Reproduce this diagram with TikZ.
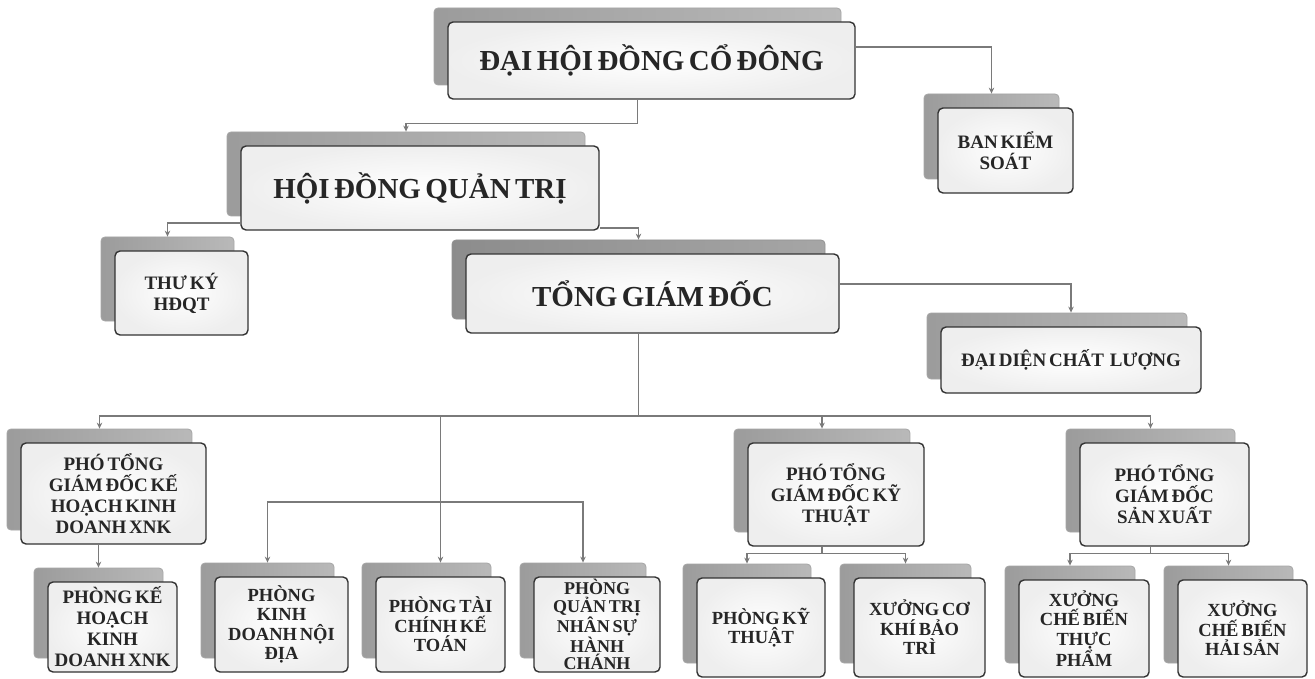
\documentclass[tikz,border=0pt]{standalone}
\usepackage{fontspec}
\setmainfont{Liberation Serif}[WordSpace=0.6]
\usetikzlibrary{arrows.meta}
\tikzset{
  backbox/.style={rounded corners=4pt, draw=gray!70, line width=0.8pt, left color=gray!78, right color=gray!55, inner sep=0pt},
  darkback/.style={left color=gray!90, right color=gray!70, draw=gray!85},
  frontbox/.style={rounded corners=5pt, draw=black!80, line width=1.4pt, inner color=white, outer color=gray!13, inner sep=0pt, align=center, text=black!85, font=\bfseries\fontsize{18}{19.5}\selectfont},
  bigtext/.style={font=\bfseries\fontsize{29}{31}\selectfont},
  midtext/.style={font=\bfseries\fontsize{19}{21}\selectfont},
  smalltext/.style={font=\bfseries\fontsize{18.5}{19.5}\selectfont},
  tighttext/.style={font=\bfseries\fontsize{18}{17.5}\selectfont},
  conn/.style={draw=black!52, line width=1.5pt, -{Stealth[length=6pt,width=5.5pt]}},
  plainline/.style={draw=black!52, line width=1.5pt},
}
\NewDocumentCommand\orgbox{O{} O{} m m m m m m}{%
  \node[backbox, #2, minimum width={(#6)-(#4)}, minimum height={(#7)-(#5)}] (#3-b) at ({(#4+#6)/2-14},{(#5+#7)/2-14}) {};
  \node[frontbox, minimum width={(#6)-(#4)}, minimum height={(#7)-(#5)}, #1] (#3) at ({(#4+#6)/2},{(#5+#7)/2}) {#8};
}
\begin{document}
\begin{tikzpicture}[x=1pt,y=-1pt]
\useasboundingbox[fill=white] (0,0) rectangle (1315,679);
\orgbox[bigtext]{dh}{448}{22}{855}{99}{ĐẠI HỘI ĐỒNG CỔ ĐÔNG}
\orgbox[midtext]{bks}{938}{108}{1073}{193}{BAN KIỂM\\SOÁT}
\orgbox[bigtext]{hdq}{241}{146}{599}{230}{HỘI ĐỒNG QUẢN TRỊ}
\orgbox[midtext]{tk}{115}{251}{248}{335}{THƯ KÝ\\HĐQT}
\orgbox[bigtext][darkback]{tgd}{466}{254}{839}{333}{TỔNG GIÁM ĐỐC}
\orgbox[midtext]{ddcl}{941}{327}{1201}{393}{ĐẠI DIỆN CHẤT\hspace{0.3em}LƯỢNG}
\orgbox[midtext]{pkh}{21}{443}{206}{544}{PHÓ TỔNG\\GIÁM ĐỐC KẾ\\HOẠCH KINH\\DOANH XNK}
\orgbox[midtext]{pkt}{748}{443}{924}{546}{PHÓ TỔNG\\GIÁM ĐỐC KỸ\\THUẬT}
\orgbox[midtext]{psx}{1080}{443}{1249}{546}{PHÓ TỔNG\\GIÁM ĐỐC\\SẢN XUẤT}
\orgbox[midtext]{pkhk}{48}{582}{177}{672}{PHÒNG KẾ\\HOẠCH\\KINH\\DOANH XNK}
\orgbox[smalltext]{pkd}{215}{577}{348}{672}{PHÒNG\\KINH\\DOANH NỘI\\ĐỊA}
\orgbox[smalltext]{ptc}{376}{577}{505}{672}{PHÒNG TÀI\\CHÍNH KẾ\\TOÁN}
\orgbox[tighttext]{pqt}{534}{577}{660}{672}{PHÒNG\\QUẢN TRỊ\\NHÂN SỰ\\HÀNH\\CHÁNH}
\orgbox[smalltext]{pkyt}{697}{578}{825}{677}{PHÒNG KỸ\\THUẬT}
\orgbox[smalltext]{xck}{854}{578}{985}{677}{XƯỞNG CƠ\\KHÍ BẢO\\TRÌ}
\orgbox[smalltext]{xtp}{1019}{580}{1149}{677}{XƯỞNG\\CHẾ BIẾN\\THỰC\\PHẨM}
\orgbox[smalltext]{xhs}{1178}{580}{1307}{677}{XƯỞNG\\CHẾ BIẾN\\HẢI SẢN}
\coordinate (bus) at (0,416);
\coordinate (midbus) at (0,502);
\draw[conn] (dh-b.south |- dh.south) -- ++(0,24) -| (hdq-b.north);
\draw[conn] ([yshift=13.5pt]dh.east) -| (bks-b.north);
\draw[conn] ([yshift=-35pt]hdq.west) -| (tk-b.north);
\draw[conn] ([yshift=-40pt]hdq.east) -| (tgd-b.north);
\draw[conn] ([yshift=9.5pt]tgd.east) -| (ddcl.north |- ddcl-b.north);
\draw[plainline] (tgd-b.south |- tgd.south) -- (tgd-b.south |- bus);
\draw[conn] (tgd-b.south |- bus) -| (pkh-b.north);
\draw[conn] (tgd-b.south |- bus) -| (pkt-b.north);
\draw[conn] (tgd-b.south |- bus) -| (psx-b.north);
\draw[conn] (ptc.north |- bus) -- (ptc.north |- ptc-b.north);
\draw[conn] (ptc.north |- midbus) -| (pkd-b.north);
\draw[conn] (ptc.north |- midbus) -| (pqt-b.north);
\draw[conn] (pkhk-b.north |- pkh.south) -- (pkhk-b.north);
\draw[conn] (pkt-b.south |- pkt.south) -- ++(0,7) -| (pkyt-b.north);
\draw[conn] (pkt-b.south |- pkt.south) -- ++(0,7) -| (xck-b.north);
\draw[conn] (psx-b.south |- psx.south) -- ++(0,7) -| (xtp-b.north);
\draw[conn] (psx-b.south |- psx.south) -- ++(0,7) -| (xhs-b.north);
\end{tikzpicture}
\end{document}
